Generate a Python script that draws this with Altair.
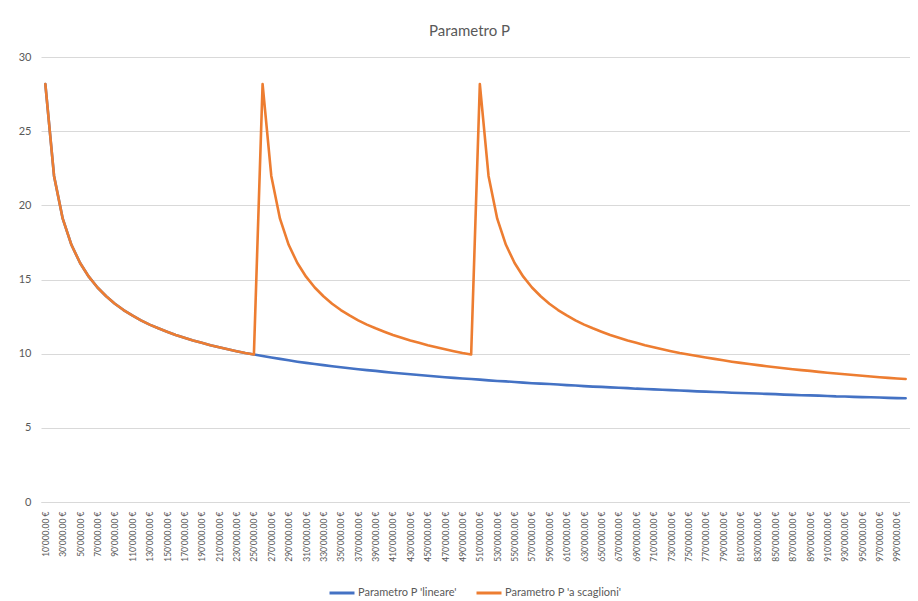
import altair as alt
import pandas as pd

FONT = "Lato"
GREY = "#595959"

amounts = list(range(10000, 1000001, 10000))
categories = [f"{a:,.2f} €".replace(",", "'") for a in amounts]

lineare = [
    28.17, 21.98, 19.10, 17.34, 16.11, 15.19, 14.46, 13.87, 13.37, 12.94,
    12.58, 12.25, 11.96, 11.71, 11.48, 11.26, 11.07, 10.89, 10.73, 10.57,
    10.43, 10.30, 10.17, 10.05, 9.95, 9.84, 9.74, 9.65, 9.55, 9.46,
    9.38, 9.30, 9.23, 9.15, 9.08, 9.02, 8.95, 8.89, 8.84, 8.77,
    8.71, 8.66, 8.61, 8.56, 8.51, 8.46, 8.41, 8.37, 8.33, 8.29,
    8.25, 8.20, 8.16, 8.13, 8.09, 8.05, 8.01, 7.98, 7.95, 7.92,
    7.88, 7.85, 7.81, 7.78, 7.76, 7.73, 7.70, 7.68, 7.64, 7.62,
    7.59, 7.57, 7.54, 7.52, 7.49, 7.46, 7.44, 7.42, 7.40, 7.37,
    7.35, 7.33, 7.31, 7.29, 7.27, 7.24, 7.22, 7.20, 7.19, 7.17,
    7.15, 7.12, 7.11, 7.09, 7.07, 7.06, 7.04, 7.02, 7.00, 6.99,
]

scaglioni = [
    28.17, 21.98, 19.10, 17.34, 16.11, 15.19, 14.46, 13.87, 13.37, 12.94,
    12.58, 12.25, 11.96, 11.71, 11.48, 11.26, 11.07, 10.89, 10.73, 10.57,
    10.43, 10.30, 10.17, 10.05, 9.95,
    28.17, 21.98, 19.10, 17.34, 16.11, 15.19, 14.46, 13.87, 13.37, 12.94,
    12.58, 12.25, 11.96, 11.71, 11.48, 11.26, 11.07, 10.89, 10.73, 10.57,
    10.43, 10.30, 10.17, 10.05, 9.95,
    28.17, 21.98, 19.10, 17.34, 16.11, 15.19, 14.46, 13.87, 13.37, 12.94,
    12.58, 12.25, 11.96, 11.71, 11.48, 11.26, 11.07, 10.89, 10.73, 10.57,
    10.43, 10.30, 10.17, 10.05, 9.95, 9.84, 9.74, 9.65, 9.55, 9.46,
    9.38, 9.30, 9.23, 9.15, 9.08, 9.02, 8.95, 8.89, 8.84, 8.77,
    8.71, 8.66, 8.61, 8.56, 8.51, 8.46, 8.41, 8.37, 8.33, 8.29,
]

series_names = ["Parametro P 'lineare'", "Parametro P 'a scaglioni'"]
series_colors = ["#4472C4", "#ED7D31"]
y_ticks = [0, 5, 10, 15, 20, 25, 30]

df = pd.DataFrame({
    "importo": categories + categories,
    "P": lineare + scaglioni,
    "serie": [series_names[0]] * len(lineare) + [series_names[1]] * len(scaglioni),
})

color = alt.Color(
    "serie:N",
    scale=alt.Scale(domain=series_names, range=series_colors),
    legend=alt.Legend(
        title=None, orient="none", direction="horizontal",
        legendX=287, legendY=522,
        symbolType="stroke", symbolSize=625, symbolStrokeWidth=3,
        labelFont=FONT, labelFontSize=11, labelColor=GREY,
        columnPadding=13, labelOffset=2,
    ),
)

x = alt.X(
    "importo:O", sort=categories,
    scale=alt.Scale(type="point", padding=0.5),
    axis=alt.Axis(
        title=None, values=categories[::2], labelAngle=-90, labelAlign="right",
        labelBaseline="middle", ticks=False, labelPadding=9, domainColor="#d9d9d9",
        grid=False, labelFont=FONT, labelFontSize=8.5, labelColor=GREY,
        labelOverlap=False,
    ),
)

y = alt.Y(
    "P:Q",
    scale=alt.Scale(domain=[0, 30], nice=False),
    axis=alt.Axis(
        title=None, values=y_ticks, domain=False, ticks=False, gridColor="#d9d9d9",
        labelPadding=10, labelFont=FONT, labelFontSize=11, labelColor=GREY,
    ),
)

base = alt.Chart(df).mark_line(strokeWidth=2.6, strokeJoin="round", strokeCap="round").encode(
    x=x, y=y, color=color
)

blue = base.transform_filter(alt.datum.serie == series_names[0])
orange = base.transform_filter(alt.datum.serie == series_names[1])

chart = alt.layer(blue, orange).properties(
    width=869,
    height=445,
    title=alt.Title(
        "Parametro P", font=FONT, fontSize=15, fontWeight="normal", color=GREY,
        anchor="middle", dx=-6, offset=12, frame="group",
    ),
    autosize=alt.AutoSizeParams(type="none"),
    padding={"left": 33, "top": 49, "right": 0, "bottom": 99},
    background="white",
).configure_view(stroke=None)

chart.save("out.html", embed_options={"renderer": "svg", "actions": False})
